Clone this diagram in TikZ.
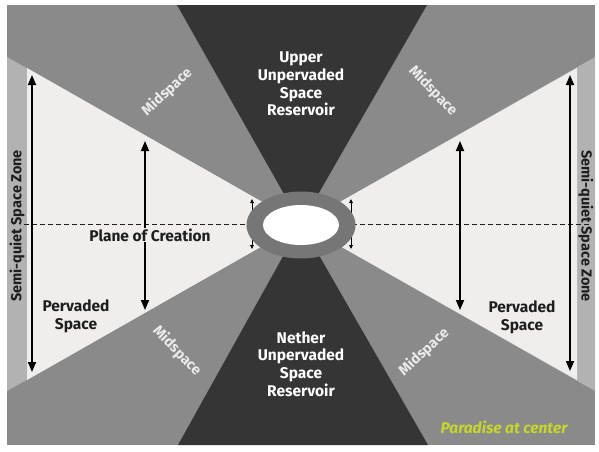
\documentclass[tikz,border=0pt]{standalone}
\usepackage{fontspec}
\setmainfont{Fira Sans}
\usetikzlibrary{arrows.meta}
\definecolor{cdark}{HTML}{353535}
\definecolor{cmid}{HTML}{8A8A8A}
\definecolor{cstrip}{HTML}{B2B2B2}
\definecolor{cpale}{HTML}{EFEEEC}
\definecolor{cring}{HTML}{767676}
\definecolor{cyel}{HTML}{C6D62C}
\definecolor{ctext}{HTML}{1E1E1E}
\tikzset{
  lbl/.style={font=\bfseries\fontsize{15.5}{17.7}\selectfont, align=center, inner sep=1pt},
  whitelbl/.style={lbl, text=white},
  midlbl/.style={font=\bfseries\fontsize{14.5}{16}\selectfont, text=white!92!black, inner sep=0pt},
  striplbl/.style={font=\bfseries\fontsize{14.5}{16}\selectfont, text=ctext, inner sep=0pt},
  bigarrow/.style={line width=1.7pt, {Triangle[length=10pt,width=8pt]}-{Triangle[length=10pt,width=8pt]}},
  smallarrow/.style={line width=0.8pt, {Triangle[length=4pt,width=3.5pt]}-{Triangle[length=4pt,width=3.5pt]}},
  plane/.style={dash pattern=on 5pt off 3pt, line width=0.9pt, draw=ctext}
}
\begin{document}
\begin{tikzpicture}[x=1pt,y=-1pt]
\useasboundingbox (0,0) rectangle (599,451);
\fill[white] (0,0) rectangle (599,451);
% background
\fill[cmid] (7,5) rectangle (595,445);
% strips (extended pervaded wedges)
\fill[cstrip] (301,224) -- (7,57) -- (7,391) -- cycle;
\fill[cstrip] (301,224) -- (595,57) -- (595,391) -- cycle;
% pervaded regions
\fill[cpale] (301,224) -- (27,68) -- (27,380) -- cycle;
\fill[cpale] (301,224) -- (577,68) -- (577,380) -- cycle;
% reservoirs
\fill[cdark] (177,5) -- (427,5) -- (301,224) -- cycle;
\fill[cdark] (178,445) -- (428,445) -- (301,224) -- cycle;
% plane of creation
\coordinate (pl) at (24,224);
\coordinate (pr) at (589,224);
\draw[plane] (pl) -- (pr);
% arrows
\coordinate (a1t) at (32,75);  \coordinate (a1b) at (32,372);
\coordinate (a2t) at (145,141); \coordinate (a2b) at (145,310);
\coordinate (a3t) at (460,141); \coordinate (a3b) at (460,310);
\coordinate (a4t) at (570,75); \coordinate (a4b) at (570,371);
\coordinate (s1t) at (252,199); \coordinate (s1b) at (252,249);
\coordinate (s2t) at (351,199); \coordinate (s2b) at (351,249);
\draw[bigarrow] (a1t) -- (a1b);
\draw[bigarrow] (a2t) -- (a2b);
\draw[bigarrow] (a3t) -- (a3b);
\draw[bigarrow] (a4t) -- (a4b);
\draw[smallarrow] (s1t) -- (s1b);
\draw[smallarrow] (s2t) -- (s2b);
% paradise ring
\coordinate (ringc) at (301,225);
\fill[cring] (ringc) ellipse [x radius=54.5, y radius=33.5];
\fill[white] (ringc) ellipse [x radius=38, y radius=20];
% labels
\node[whitelbl] (upper) at (301,84) {Upper\\Unpervaded\\Space\\Reservoir};
\node[whitelbl] (nether) at (301,364) {Nether\\Unpervaded\\Space\\Reservoir};
\node[lbl, fill=cpale, text=ctext] (plabel) at (150,235) {Plane of Creation};
\node[lbl, text=ctext] (pvl) at (76,316) {Pervaded\\Space};
\node[lbl, text=ctext] (pvr) at (522,317) {Pervaded\\Space};
\node[midlbl, rotate=43] (m1) at (167,92) {Midspace};
\node[midlbl, rotate=-46] (m2) at (433,91) {Midspace};
\node[midlbl, rotate=-46] (m3) at (177,351) {Midspace};
\node[midlbl, rotate=43] (m4) at (424,352) {Midspace};
\node[striplbl, rotate=90] (zl) at (17,226) {Semi-quiet Space Zone};
\node[striplbl, rotate=-90] (zr) at (586,226) {Semi-quiet Space Zone};
\node[font=\bfseries\itshape\fontsize{15.5}{16}\selectfont, text=cyel, inner sep=0pt] (par) at (504,427) {Paradise at center};
\end{tikzpicture}
\end{document}
